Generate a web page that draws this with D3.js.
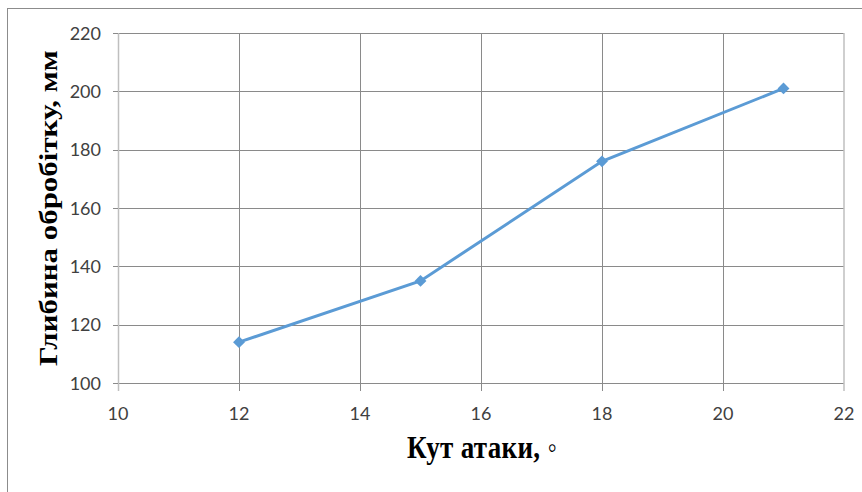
<!DOCTYPE html>
<html><head><meta charset="utf-8">
<script src="https://cdn.jsdelivr.net/npm/d3@7"></script>
<style>body{margin:0;background:#fff}svg{display:block}</style>
</head><body><svg id="c" width="862" height="492"></svg>
<script>
const xValues = [12, 15, 18, 21];
const yValues = [114, 135, 176, 201];
const xTicks = [10, 12, 14, 16, 18, 20, 22];
const yTicks = [100, 120, 140, 160, 180, 200, 220];
const xTitle = "Кут атаки, ◦";
const yTitle = "Глибина обробітку, мм";

const svg = d3.select("#c");
const L = 118, R = 844, T = 33, B = 383;
const x = d3.scaleLinear().domain([10, 22]).range([L, R]);
const y = d3.scaleLinear().domain([100, 220]).range([B, T]);

svg.append("rect").attr("x", 7.5).attr("y", 8.5).attr("width", 870).attr("height", 500)
  .attr("fill", "#fff").attr("stroke", "#8c8c8c").attr("stroke-width", 1);

const g = svg.append("g");
g.selectAll(".hg").data(yTicks).join("line")
  .attr("x1", L).attr("x2", R).attr("y1", d => Math.round(y(d)) + 0.5).attr("y2", d => Math.round(y(d)) + 0.5)
  .attr("stroke", "#8a8a8a").attr("stroke-width", 1);
g.selectAll(".vg").data(xTicks.slice(1, -1)).join("line")
  .attr("y1", T).attr("y2", B + 8).attr("x1", d => Math.round(x(d)) + 0.5).attr("x2", d => Math.round(x(d)) + 0.5)
  .attr("stroke", "#8a8a8a").attr("stroke-width", 1);
g.append("line").attr("x1", L + 0.5).attr("x2", L + 0.5).attr("y1", T).attr("y2", B + 8)
  .attr("stroke", "#bfbfbf").attr("stroke-width", 1.5);
g.append("line").attr("x1", R).attr("x2", R).attr("y1", T).attr("y2", B + 8)
  .attr("stroke", "#bfbfbf").attr("stroke-width", 1.5);
g.selectAll(".yt").data(yTicks).join("line")
  .attr("x1", L - 5).attr("x2", L).attr("y1", d => Math.round(y(d)) + 0.5).attr("y2", d => Math.round(y(d)) + 0.5)
  .attr("stroke", "#8a8a8a");

g.selectAll(".yl").data(yTicks).join("text")
  .attr("x", 101).attr("y", d => y(d) + 6.5).attr("text-anchor", "end")
  .attr("font-family", "Lato, 'Liberation Sans', sans-serif").attr("font-size", 18).attr("fill", "#404040")
  .text(d => d);
g.selectAll(".xl").data(xTicks).join("text")
  .attr("x", d => x(d)).attr("y", 420).attr("text-anchor", "middle")
  .attr("font-family", "Lato, 'Liberation Sans', sans-serif").attr("font-size", 18).attr("fill", "#404040")
  .text(d => d);

const pts = xValues.map((v, i) => [v, yValues[i]]);
g.append("path").datum(pts)
  .attr("d", d3.line().x(d => x(d[0])).y(d => y(d[1])))
  .attr("fill", "none").attr("stroke", "#5b9bd5").attr("stroke-width", 3);
g.selectAll(".m").data(pts).join("path")
  .attr("d", d3.symbol().type(d3.symbolDiamond2).size(90))
  .attr("transform", d => `translate(${x(d[0])},${y(d[1])})`)
  .attr("fill", "#5b9bd5");

svg.append("text").attr("transform", "translate(482,458) scale(1,1.19)").attr("text-anchor", "middle")
  .attr("font-family", "'Liberation Serif', serif").attr("font-weight", "bold").attr("font-size", 27).attr("fill", "#000")
  .attr("textLength", 150).attr("lengthAdjust", "spacing")
  .text(xTitle);
svg.append("text").attr("transform", "translate(57,208) scale(1,1.19) rotate(-90)").attr("text-anchor", "middle")
  .attr("font-family", "'Liberation Serif', serif").attr("font-weight", "bold").attr("font-size", 26).attr("fill", "#000")
  .text(yTitle);
</script></body></html>
